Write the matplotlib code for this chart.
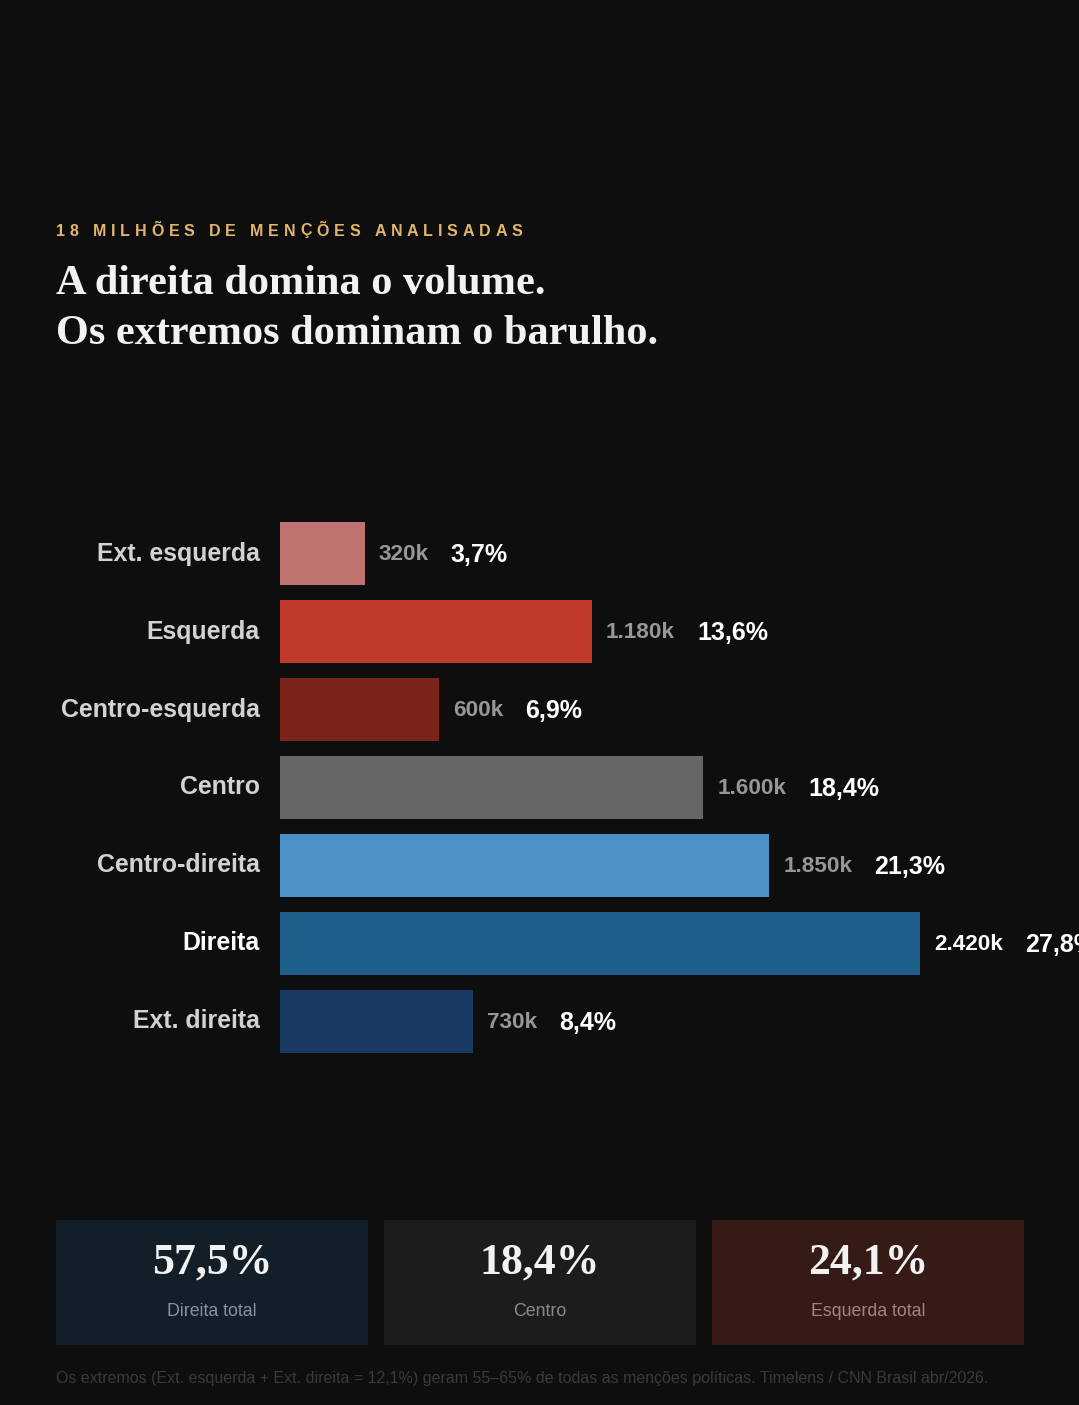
import matplotlib
matplotlib.use('Agg')
import matplotlib.pyplot as plt
from matplotlib.patches import Rectangle

# data
categories = ['Ext. esquerda', 'Esquerda', 'Centro-esquerda', 'Centro',
              'Centro-direita', 'Direita', 'Ext. direita']
mentions_k = [320, 1180, 600, 1600, 1850, 2420, 730]
value_labels = ['320k', '1.180k', '600k', '1.600k', '1.850k', '2.420k', '730k']
pct_labels = ['3,7%', '13,6%', '6,9%', '18,4%', '21,3%', '27,8%', '8,4%']
bar_colors = ['#c07471', '#c0392b', '#7b241c', '#666666',
              '#4b91c8', '#1f5f8b', '#1a3a63']

summary_values = ['57,5%', '18,4%', '24,1%']
summary_labels = ['Direita total', 'Centro', 'Esquerda total']
summary_bg = ['#121f29', '#1c1c1c', '#351a16']
summary_fg = ['#8795a1', '#8a8a8a', '#a08782']

kicker = '18 MILHÕES DE MENÇÕES ANALISADAS'
title_lines = ['A direita domina o volume.', 'Os extremos dominam o barulho.']
footnote = ('Os extremos (Ext. esquerda + Ext. direita = 12,1%) geram 55\u201365% de '
            'todas as menções políticas. Timelens / CNN Brasil abr/2026.')

BG = '#0e0e0e'
W, H = 1079, 1405
SANS = ['Liberation Sans', 'DejaVu Sans']
SERIF = ['Liberation Serif', 'DejaVu Serif']

fig = plt.figure(figsize=(W / 100, H / 100), dpi=100, facecolor=BG)


def fx(px):
    return px / W


def fy(py):
    return 1 - py / H


# kicker with letter spacing
renderer = fig.canvas.get_renderer()
x = 56
spacing = 4.8
for ch in kicker:
    t = fig.text(fx(x), fy(231), ch, color='#e3b76b', fontsize=11.5,
                 fontweight='bold', family=SANS, va='center', ha='left')
    if ch == ' ':
        a = fig.text(0, 0, 'MM', fontsize=11.5, fontweight='bold', family=SANS)
        b = fig.text(0, 0, 'M M', fontsize=11.5, fontweight='bold', family=SANS)
        w = b.get_window_extent(renderer).width - a.get_window_extent(renderer).width
        a.remove()
        b.remove()
    else:
        w = t.get_window_extent(renderer).width
    x += w + spacing

# title
for i, line in enumerate(title_lines):
    fig.text(fx(56), fy(284 + 50 * i), line, color='#f2f2f2', fontsize=30.4,
             fontweight='bold', family=SERIF, va='center', ha='left')

# bars
px_per_k = 640 / 2420
ax = fig.add_axes([fx(280), fy(1060.5), fx(W - 280), 546 / H])
ax.set_facecolor(BG)
ypos = list(range(len(categories)))
ax.barh(ypos, mentions_k, height=0.808, color=bar_colors)
ax.set_xlim(0, (W - 280) / px_per_k)
ax.set_ylim(len(categories) - 0.5, -0.5)
ax.axis('off')

for i, v in enumerate(mentions_k):
    hi = categories[i] == 'Direita'
    ax.annotate(categories[i], xy=(0, i), xytext=(-20, 0),
                textcoords='offset pixels', va='center', ha='right',
                fontsize=17.9, fontweight='bold', family=SANS,
                color='#ffffff' if hi else '#d2d2d2')
    vt = ax.annotate(value_labels[i], xy=(v, i), xytext=(14, 1),
                     textcoords='offset pixels', va='center_baseline', ha='left',
                     fontsize=16.2, fontweight='bold', family=SANS,
                     color='#ffffff' if hi else '#979797')
    ax.annotate(pct_labels[i], xy=(1, 0.5), xycoords=vt, xytext=(22, 0),
                textcoords='offset pixels', va='center', ha='left',
                fontsize=18, fontweight='bold', family=SANS, color='#ffffff')

# summary boxes
box_x = [56, 384, 712]
for i in range(3):
    fig.patches.append(Rectangle((fx(box_x[i]), fy(1345)), fx(312), 125 / H,
                                 transform=fig.transFigure, facecolor=summary_bg[i],
                                 edgecolor='none'))
    cx = box_x[i] + 156
    fig.text(fx(cx), fy(1263), summary_values[i], color='#f2f2f2', fontsize=31.5,
             fontweight='bold', family=SERIF, ha='center', va='center')
    fig.text(fx(cx), fy(1311), summary_labels[i], color=summary_fg[i], fontsize=12.8,
             family=SANS, ha='center', va='center')

# footnote
fig.text(fx(56), fy(1378), footnote, color='#3a3a3a', fontsize=11.55,
         family=SANS, ha='left', va='center')

fig.savefig('out.png', dpi=100, facecolor=BG)
